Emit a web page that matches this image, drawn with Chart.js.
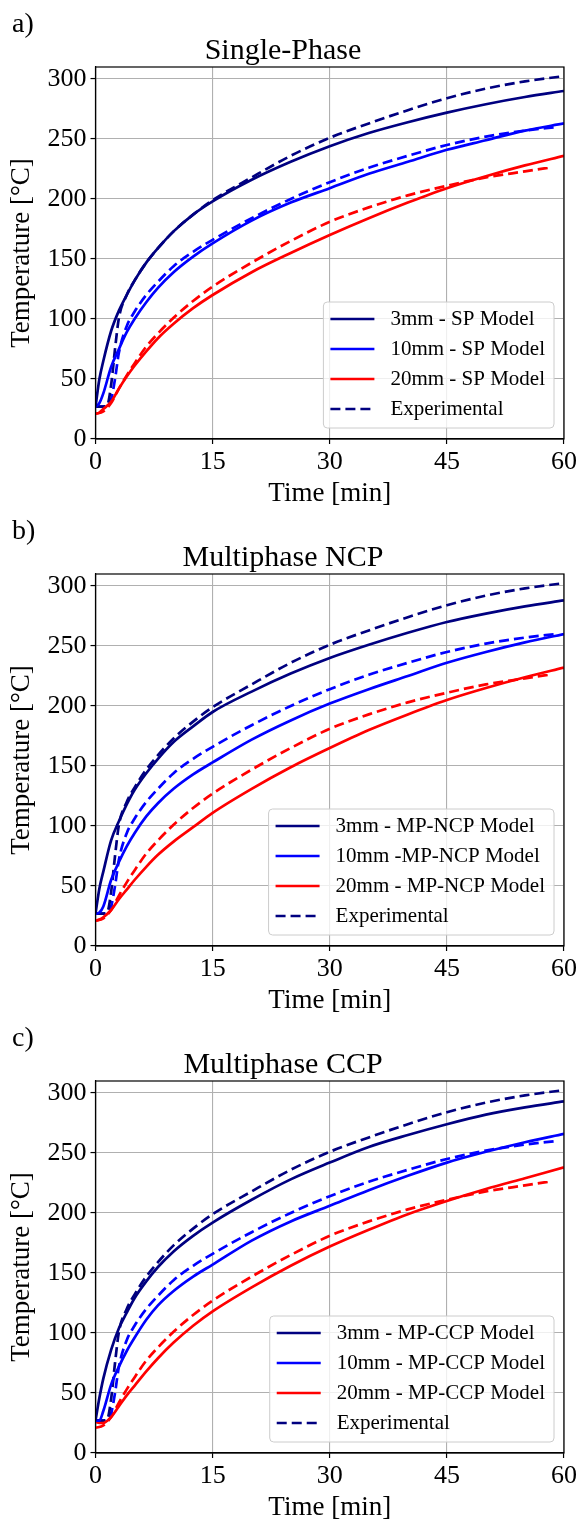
<!DOCTYPE html>
<html>
<head>
<meta charset="utf-8">
<script src="https://cdn.jsdelivr.net/npm/chart.js@4.4.1/dist/chart.umd.min.js"></script>
<style>
  body { margin: 0; background: #fff; width: 580px; height: 1523px; overflow: hidden; position: relative; }
  .panel { position: absolute; left: 0; width: 580px; height: 507px; }
  .tag { position: absolute; left: 12px; top: 9px; font: 28px "Liberation Serif", serif; line-height: 1; color: #000; }
  canvas { display: block; }
</style>
</head>
<body>
<div class="panel" style="top:0"><canvas id="chartA" width="580" height="507"></canvas><span class="tag">a)</span></div>
<div class="panel" style="top:507px"><canvas id="chartB" width="580" height="507"></canvas><span class="tag">b)</span></div>
<div class="panel" style="top:1014px"><canvas id="chartC" width="580" height="507"></canvas><span class="tag">c)</span></div>

<script>
// axis ticks
const xTicks = [0, 15, 30, 45, 60];
const yTicks = [0, 50, 100, 150, 200, 250, 300];

// time grids [min]
const tModel = [0, 0.5, 1, 2, 3, 4, 5, 6.5, 8, 10, 12.5, 15, 20, 25, 30, 35, 40, 45, 50, 55, 60];
const tExp3  = [0, 1, 1.5, 2, 2.5, 3, 4, 5, 6.5, 8, 10, 12.5, 15, 20, 25, 30, 35, 40, 45, 50, 55, 59.5];
const tExp10 = [0, 1, 1.5, 2, 2.5, 3, 4, 5, 6.5, 8, 10, 12.5, 15, 20, 25, 30, 35, 40, 45, 50, 55, 59];
const tExp20 = [0, 1, 2, 3, 4, 5, 6.5, 8, 10, 12.5, 15, 20, 25, 30, 35, 40, 45, 50, 55, 58];

// experimental temperatures [°C]
const exp3  = [27, 27, 28, 45, 75, 101, 120, 132, 147, 159, 173, 187, 199, 218, 236, 251, 263, 274, 284, 292, 298, 302];
const exp10 = [27, 27, 28, 33, 50, 72, 94, 106, 120, 131, 144, 156, 166, 184, 200, 214, 226, 236, 245, 252, 257, 260];
const exp20 = [21, 23, 30, 42, 53, 63, 77, 88, 101, 115, 127, 147, 165, 181, 193, 203, 211, 218, 223, 226];

// single-phase model
const sp3  = [27, 50, 65, 90, 107, 120, 132, 147, 159, 173, 187, 198, 216, 231, 244, 255, 264, 272, 279, 285, 290];
const sp10 = [27, 30, 38, 60, 75, 89, 100, 114, 126, 139, 152, 163, 182, 197, 209, 221, 231, 241, 249, 257, 263];
const sp20 = [21, 22, 25, 31, 42, 52, 61, 73, 84, 96, 109, 120, 139, 155, 170, 184, 197, 209, 219, 228, 236];

// multiphase NCP model
const ncp3  = [27, 48, 62, 88, 104, 118, 130, 144, 156, 170, 183, 195, 212, 227, 240, 251, 261, 270, 277, 283, 288];
const ncp10 = [27, 28, 33, 55, 70, 83, 94, 108, 119, 131, 143, 153, 172, 188, 202, 214, 225, 236, 245, 253, 260];
const ncp20 = [21, 22, 24, 30, 39, 47, 55, 66, 76, 87, 99, 111, 131, 149, 165, 180, 193, 205, 215, 224, 232];

// multiphase CCP model
const ccp3  = [27, 46, 62, 86, 104, 117, 129, 143, 155, 168, 181, 192, 211, 228, 242, 255, 265, 274, 282, 288, 293];
const ccp10 = [27, 27, 35, 57, 72, 85, 96, 111, 123, 135, 147, 157, 177, 193, 206, 219, 231, 242, 251, 259, 266];
const ccp20 = [26, 25, 25, 30, 39, 48, 56, 68, 79, 92, 106, 118, 138, 156, 172, 186, 199, 210, 220, 229, 238];

const FONT = '"Liberation Serif", "Times New Roman", serif';
const NAVY = '#000080', BLUE = '#0000ff', RED = '#ff0000';
Chart.defaults.font.family = FONT;
Chart.defaults.color = '#000';

function pts(ts, vs) {
  return ts.map((t, i) => ({ x: t, y: vs[i] }));
}

// closed frame + matplotlib-like legend inside the axes
const frameLegend = {
  id: 'frameLegend',
  afterDatasetsDraw(chart) {
    const { ctx, chartArea: a } = chart;
    ctx.save();
    ctx.strokeStyle = '#000';
    ctx.lineWidth = 1.2;
    ctx.strokeRect(a.left, a.top, a.right - a.left, a.bottom - a.top);

    const items = chart.data.datasets.filter(d => d.inLegend);
    ctx.font = '21px ' + FONT;
    const tw = Math.max(...items.map(d => ctx.measureText(d.label).width));
    const w = 67 + tw + 9, h = 126;
    const x = a.right - 10 - w, y = a.bottom - 11 - h;
    ctx.fillStyle = 'rgba(255,255,255,0.8)';
    ctx.strokeStyle = '#cccccc';
    ctx.lineWidth = 1;
    ctx.beginPath();
    ctx.roundRect(x, y, w, h, 4);
    ctx.fill();
    ctx.stroke();
    items.forEach((d, i) => {
      const cy = y + 17 + i * 30;
      ctx.strokeStyle = d.borderColor;
      ctx.lineWidth = 2.7;
      ctx.setLineDash(d.borderDash || []);
      ctx.beginPath();
      ctx.moveTo(x + 7, cy);
      ctx.lineTo(x + 51, cy);
      ctx.stroke();
      ctx.setLineDash([]);
      ctx.fillStyle = '#000';
      ctx.textBaseline = 'middle';
      ctx.fillText(d.label, x + 67, cy);
    });
    ctx.restore();
  }
};

function makeChart(id, title, names, m3, m10, m20) {
  const line = (label, data, color, dash, inLegend) => ({
    label, data, borderColor: color, backgroundColor: color,
    borderWidth: 2.7, borderDash: dash, pointRadius: 0,
    cubicInterpolationMode: 'monotone', inLegend
  });
  const axisGrid = { color: '#b0b0b0', lineWidth: 1.1, tickColor: '#000', tickLength: 5, tickWidth: 1.2 };
  new Chart(document.getElementById(id), {
    type: 'line',
    data: {
      datasets: [
        line(names[0], pts(tModel, m3), NAVY, [], true),
        line(names[1], pts(tModel, m10), BLUE, [], true),
        line(names[2], pts(tModel, m20), RED, [], true),
        line('Experimental', pts(tExp3, exp3), NAVY, [10, 5], true),
        line('Experimental 10mm', pts(tExp10, exp10), BLUE, [10, 5], false),
        line('Experimental 20mm', pts(tExp20, exp20), RED, [10, 5], false)
      ]
    },
    options: {
      responsive: false,
      animation: false,
      layout: { padding: { left: 0, right: 14, top: 0, bottom: 0 } },
      plugins: {
        legend: { display: false },
        tooltip: { enabled: false },
        title: {
          display: true, text: title, color: '#000',
          font: { family: FONT, size: 30, weight: 'normal', lineHeight: 1 },
          padding: { top: 36, bottom: 1 }
        }
      },
      scales: {
        x: {
          type: 'linear', min: 0, max: 60,
          afterBuildTicks(s) { s.ticks = xTicks.map(v => ({ value: v })); },
          ticks: { color: '#000', font: { size: 26 }, padding: 3, maxRotation: 0 },
          grid: axisGrid,
          border: { color: '#000', width: 1.2 },
          title: { display: true, text: 'Time [min]', color: '#000', font: { size: 27, lineHeight: 1 }, padding: 0 },
          afterFit(s) { s.height = 68; }
        },
        y: {
          min: 0, max: 310,
          afterBuildTicks(s) { s.ticks = yTicks.map(v => ({ value: v })); },
          ticks: { color: '#000', font: { size: 26 }, padding: 4 },
          grid: axisGrid,
          border: { color: '#000', width: 1.2 },
          title: { display: true, text: 'Temperature [°C]', color: '#000', font: { size: 27, lineHeight: 1 }, padding: { top: 8, bottom: 0 } },
          afterFit(s) { s.width = 95.5; }
        }
      }
    },
    plugins: [frameLegend]
  });
}

makeChart('chartA', 'Single-Phase',
  ['3mm - SP Model', '10mm - SP Model', '20mm - SP Model'], sp3, sp10, sp20);
makeChart('chartB', 'Multiphase NCP',
  ['3mm - MP-NCP Model', '10mm -MP-NCP Model', '20mm - MP-NCP Model'], ncp3, ncp10, ncp20);
makeChart('chartC', 'Multiphase CCP',
  ['3mm - MP-CCP Model', '10mm - MP-CCP Model', '20mm - MP-CCP Model'], ccp3, ccp10, ccp20);
</script>
</body>
</html>
